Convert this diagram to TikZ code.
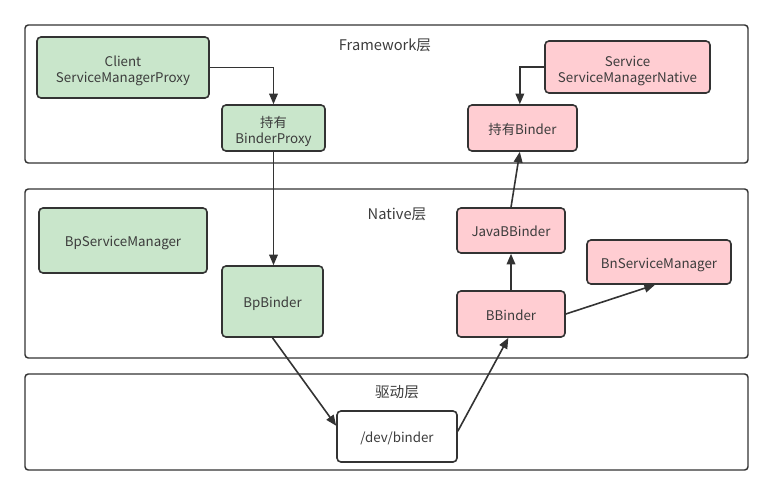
\documentclass[tikz,border=0pt]{standalone}
\usepackage{fontspec}
\setmainfont{Noto Sans CJK SC}
\usepackage{xcolor}
\definecolor{bdgreen}{RGB}{201,230,203}
\definecolor{bdpink}{RGB}{255,205,210}
\definecolor{bdline}{RGB}{51,51,51}
\definecolor{bdtext}{RGB}{60,60,60}
\usetikzlibrary{arrows.meta, positioning}

\begin{document}
\begin{tikzpicture}[x=0.75pt, y=-0.75pt,
    layer/.style={draw=bdline, line width=1.1pt, rounded corners=2.5pt},
    layertitle/.style={font=\fontsize{11}{13}\selectfont, text=bdtext},
    box/.style={draw=bdline, line width=1.2pt, rounded corners=3pt, align=center,
      font=\fontsize{10}{12}\selectfont, text=bdtext, inner sep=0pt,
      text height=10.5pt, text depth=1.36pt},
    twoline/.style={text height=23pt, text depth=0.4pt},
    gbox/.style={box, fill=bdgreen},
    pbox/.style={box, fill=bdpink},
    wbox/.style={box, fill=white},
    arr/.style={draw=bdline, line width=1.2pt, -{Triangle[length=8pt, width=6.5pt]}}]
  \useasboundingbox (0,0) rectangle (773,496);

  % Layers
  \draw[layer] (25,25) rectangle (748,163);
  \node[layertitle] (fwtitle) at (385,45) {Framework层};
  \draw[layer] (25,189) rectangle (748,358);
  \node[layertitle] (nattitle) at (397,214) {Native层};
  \draw[layer] (25,374) rectangle (748,470);
  \node[layertitle] (drvtitle) at (397,392) {驱动层};

  % Framework
  \node[gbox, twoline, minimum width=129pt, minimum height=45.75pt] (client) at (123,67.5) {Client\\ServiceManagerProxy};
  \node[gbox, twoline, minimum width=77.25pt, minimum height=34.5pt] (bproxy) at (273.5,128) {持有\\BinderProxy};
  \node[pbox, twoline, minimum width=123.75pt, minimum height=39pt] (service) at (627.5,67) {Service\\ServiceManagerNative};
  \node[pbox, minimum width=81.75pt, minimum height=34.5pt] (holdb) at (522.5,128) {持有Binder};

  % Native
  \node[gbox, minimum width=126pt, minimum height=48.75pt] (bpsm) at (123,240.5) {BpServiceManager};
  \node[gbox, minimum width=75.75pt, minimum height=53.25pt] (bpbinder) at (272.5,301.5) {BpBinder};
  \node[pbox, minimum width=81pt, minimum height=33.75pt] (javab) at (511,230.5) {JavaBBinder};
  \node[pbox, minimum width=108pt, minimum height=33pt] (bnsm) at (659,262) {BnServiceManager};
  \node[pbox, minimum width=81pt, minimum height=34.5pt] (bbinder) at (511,314) {BBinder};

  % Driver
  \node[wbox, minimum width=90pt, minimum height=38.25pt] (devbinder) at (397,436.5) {/dev/binder};

  % Connectors
  \draw[arr] (client.east) -| (bproxy.north);
  \draw[arr] (service.west) -| ([xshift=-2pt]holdb.north);
  \draw[arr] (bproxy.south) -- (bproxy.south |- bpbinder.north);
  \draw[arr] (bpbinder.south) -- (devbinder.170);
  \draw[arr] (devbinder.5) -- ([xshift=-2pt]bbinder.south);
  \draw[arr] (bbinder.north) -- (javab.south);
  \draw[arr] (javab.north) -- ([xshift=-2pt]holdb.south);
  \draw[arr] (bbinder.east) -- ([xshift=-3pt]bnsm.south);
\end{tikzpicture}
\end{document}
